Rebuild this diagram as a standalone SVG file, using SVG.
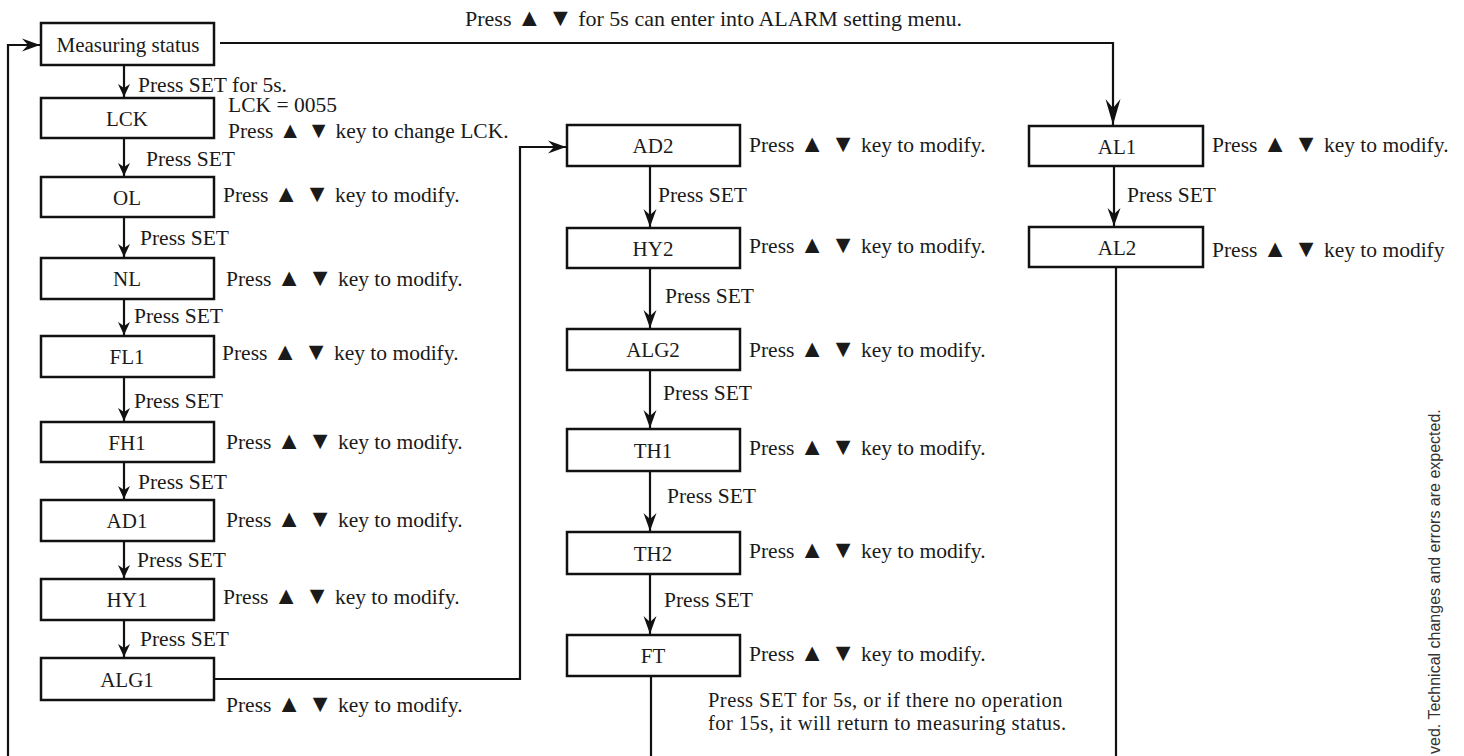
<svg xmlns="http://www.w3.org/2000/svg" width="1464" height="756" viewBox="0 0 1464 756">
<defs>
<style>
text{font-family:"Liberation Serif","Times New Roman",serif;font-size:21.5px;fill:#1a1a1a}
.t{font-size:25px}
.box rect{fill:#fff;stroke:#111;stroke-width:2.5}
.box text{text-anchor:middle;font-size:21px}
.conn path{fill:none;stroke:#111;stroke-width:2.2}
.note{fill:#333;font-family:"Liberation Sans",Arial,sans-serif;font-size:16px}
.foot{font-size:20.5px;letter-spacing:0.45px}
</style>
<marker id="arrS" markerUnits="userSpaceOnUse" viewBox="-14 -7 15 14" refX="0" refY="0" markerWidth="15" markerHeight="14" orient="auto">
<path d="M0,0 L-13,-6 L-9,0 L-13,6 Z" fill="#111"/>
</marker>
<marker id="arrM" markerUnits="userSpaceOnUse" viewBox="-19 -8 20 16" refX="0" refY="0" markerWidth="20" markerHeight="16" orient="auto">
<path d="M0,0 L-18,-6.5 L-12,0 L-18,6.5 Z" fill="#111"/>
</marker>
<marker id="arrL" markerUnits="userSpaceOnUse" viewBox="-27 -9 28 18" refX="0" refY="0" markerWidth="28" markerHeight="18" orient="auto">
<path d="M0,0 L-26,-7.5 L-17,0 L-26,7.5 Z" fill="#111"/>
</marker>
</defs>
<rect width="1464" height="756" fill="#fff"/>

<g id="connectors" class="conn">
<path d="M8,756 V45 H40" marker-end="url(#arrM)"/>
<path d="M220,43 H1113 V125" marker-end="url(#arrL)"/>
<path d="M124,65 V97" marker-end="url(#arrS)"/>
<path d="M124,138 V176" marker-end="url(#arrS)"/>
<path d="M124,217 V257" marker-end="url(#arrS)"/>
<path d="M124,299 V335" marker-end="url(#arrS)"/>
<path d="M124,377 V421" marker-end="url(#arrS)"/>
<path d="M124,462 V499" marker-end="url(#arrS)"/>
<path d="M124,541 V578" marker-end="url(#arrS)"/>
<path d="M124,620 V657" marker-end="url(#arrS)"/>
<path d="M214,679 H520 V147 H566" marker-end="url(#arrM)"/>
<path d="M650,166 V227" marker-end="url(#arrM)"/>
<path d="M650,268 V328" marker-end="url(#arrM)"/>
<path d="M650,370 V428" marker-end="url(#arrM)"/>
<path d="M650,471 V531" marker-end="url(#arrM)"/>
<path d="M650,574 V634" marker-end="url(#arrM)"/>
<path d="M651,676 V756"/>
<path d="M1114,166 V226" marker-end="url(#arrM)"/>
<path d="M1116,267 V756"/>
</g>

<g id="measuring" class="box"><rect x="41" y="23" width="173" height="42"/><text x="128" y="52">Measuring status</text></g>
<g id="lck" class="box"><rect x="41" y="98" width="173" height="40"/><text x="127" y="126">LCK</text></g>
<g id="ol" class="box"><rect x="41" y="177" width="173" height="40"/><text x="127" y="205">OL</text></g>
<g id="nl" class="box"><rect x="41" y="258" width="173" height="41"/><text x="127" y="286">NL</text></g>
<g id="fl1" class="box"><rect x="41" y="336" width="173" height="41"/><text x="127" y="364">FL1</text></g>
<g id="fh1" class="box"><rect x="41" y="422" width="173" height="40"/><text x="127" y="450">FH1</text></g>
<g id="ad1" class="box"><rect x="41" y="500" width="173" height="41"/><text x="127" y="528">AD1</text></g>
<g id="hy1" class="box"><rect x="41" y="579" width="173" height="41"/><text x="127" y="607">HY1</text></g>
<g id="alg1" class="box"><rect x="41" y="658" width="173" height="42"/><text x="127" y="687">ALG1</text></g>

<g id="ad2" class="box"><rect x="567" y="125" width="173" height="41"/><text x="653" y="153">AD2</text></g>
<g id="hy2" class="box"><rect x="567" y="228" width="173" height="40"/><text x="653" y="256">HY2</text></g>
<g id="alg2" class="box"><rect x="567" y="329" width="173" height="41"/><text x="653" y="357">ALG2</text></g>
<g id="th1" class="box"><rect x="567" y="429" width="173" height="42"/><text x="653" y="458">TH1</text></g>
<g id="th2" class="box"><rect x="567" y="532" width="173" height="42"/><text x="653" y="561">TH2</text></g>
<g id="ft" class="box"><rect x="567" y="635" width="173" height="41"/><text x="653" y="663">FT</text></g>

<g id="al1" class="box"><rect x="1029" y="126" width="174" height="40"/><text x="1117" y="154">AL1</text></g>
<g id="al2" class="box"><rect x="1029" y="227" width="174" height="40"/><text x="1117" y="255">AL2</text></g>

<g id="labels">
<text x="465" y="26" style="font-size:22px">Press <tspan class="t">▲ ▼</tspan> for 5s can enter into ALARM setting menu.</text>
<text x="138" y="92">Press SET for 5s.</text>
<text x="228" y="112">LCK = 0055</text>
<text x="228" y="138">Press <tspan class="t" style="font-size:23px">▲ ▼</tspan> key to change LCK.</text>
<text x="146" y="166">Press SET</text>
<text x="223" y="202">Press <tspan class="t">▲ ▼</tspan> key to modify.</text>
<text x="140" y="245">Press SET</text>
<text x="226" y="286">Press <tspan class="t">▲ ▼</tspan> key to modify.</text>
<text x="134" y="323">Press SET</text>
<text x="222" y="360">Press <tspan class="t">▲ ▼</tspan> key to modify.</text>
<text x="134" y="408">Press SET</text>
<text x="226" y="449">Press <tspan class="t">▲ ▼</tspan> key to modify.</text>
<text x="138" y="489">Press SET</text>
<text x="226" y="527">Press <tspan class="t">▲ ▼</tspan> key to modify.</text>
<text x="137" y="567">Press SET</text>
<text x="223" y="604">Press <tspan class="t">▲ ▼</tspan> key to modify.</text>
<text x="140" y="646">Press SET</text>
<text x="226" y="712">Press <tspan class="t">▲ ▼</tspan> key to modify.</text>

<text x="749" y="152">Press <tspan class="t">▲ ▼</tspan> key to modify.</text>
<text x="658" y="202">Press SET</text>
<text x="749" y="253">Press <tspan class="t">▲ ▼</tspan> key to modify.</text>
<text x="665" y="303">Press SET</text>
<text x="749" y="357">Press <tspan class="t">▲ ▼</tspan> key to modify.</text>
<text x="663" y="400">Press SET</text>
<text x="749" y="455">Press <tspan class="t">▲ ▼</tspan> key to modify.</text>
<text x="667" y="503">Press SET</text>
<text x="749" y="558">Press <tspan class="t">▲ ▼</tspan> key to modify.</text>
<text x="664" y="607">Press SET</text>
<text x="749" y="661">Press <tspan class="t">▲ ▼</tspan> key to modify.</text>
<text class="foot" x="708" y="707">Press SET for 5s, or if there no operation</text>
<text class="foot" x="708" y="730">for 15s, it will return to measuring status.</text>

<text x="1212" y="152">Press <tspan class="t">▲ ▼</tspan> key to modify.</text>
<text x="1127" y="202">Press SET</text>
<text x="1212" y="257">Press <tspan class="t">▲ ▼</tspan> key to modify</text>

<text class="note" transform="translate(1440,754) rotate(-90)">ved. Technical changes and errors are expected.</text>
</g>
</svg>
